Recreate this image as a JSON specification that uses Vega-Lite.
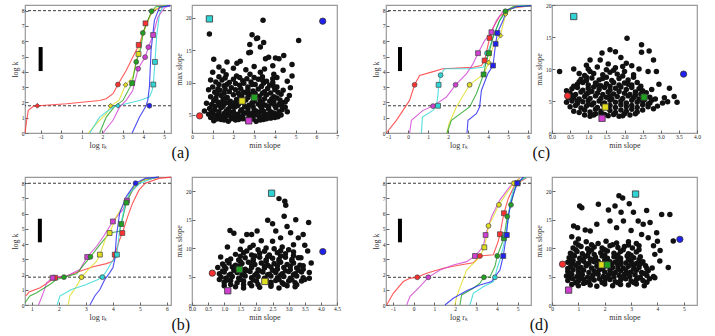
{
"$schema":"https://vega.github.io/schema/vega-lite/v6.json",
"padding":{"left":10,"top":2,"right":5,"bottom":0},
"config":{"font":"Liberation Serif","view":{"stroke":"#999","strokeWidth":1.2},
"axis":{"domain":false,"grid":false,"tickSize":-3,"tickColor":"#666","labelFontSize":5.5,"labelColor":"#222","labelOverlap":false,"labelFlush":false,"titleFontSize":8,"titleFontWeight":"normal","titleColor":"#333","labelPadding":4,"titlePadding":2},
"title":{"fontSize":16,"fontWeight":"normal","font":"Liberation Serif","color":"#111"}},
"datasets":{
"linA":[
{"s":"red","x":-1.76,"y":0},{"s":"red","x":-1.68,"y":0.8},{"s":"red","x":-1.6,"y":1.48},{"s":"red","x":-1.35,"y":1.74},{"s":"red","x":-1.11,"y":1.78},{"s":"red","x":0.26,"y":1.91},{"s":"red","x":1.87,"y":2.13},{"s":"red","x":2.19,"y":2.24},{"s":"red","x":2.52,"y":2.57},{"s":"red","x":2.76,"y":3.17},{"s":"red","x":3.16,"y":4.09},{"s":"red","x":3.48,"y":4.96},{"s":"red","x":3.81,"y":5.83},{"s":"red","x":4.13,"y":7.13},{"s":"red","x":4.45,"y":8.0},{"s":"red","x":4.94,"y":8.26},{"s":"red","x":5.3,"y":8.33},
{"s":"yellow","x":1.31,"y":0},{"s":"yellow","x":1.72,"y":0.61},{"s":"yellow","x":2.19,"y":1.26},{"s":"yellow","x":2.4,"y":1.78},{"s":"yellow","x":2.81,"y":2.13},{"s":"yellow","x":3.13,"y":3.15},{"s":"yellow","x":3.48,"y":3.65},{"s":"yellow","x":3.73,"y":5.17},{"s":"yellow","x":3.85,"y":5.83},{"s":"yellow","x":4.1,"y":6.91},{"s":"yellow","x":4.42,"y":8.0},{"s":"yellow","x":4.9,"y":8.28},{"s":"yellow","x":5.3,"y":8.33},
{"s":"green","x":1.87,"y":0},{"s":"green","x":2.19,"y":1.04},{"s":"green","x":2.6,"y":1.74},{"s":"green","x":3.0,"y":2.13},{"s":"green","x":3.45,"y":3.26},{"s":"green","x":3.65,"y":4.65},{"s":"green","x":3.89,"y":5.61},{"s":"green","x":3.97,"y":6.54},{"s":"green","x":4.21,"y":7.35},{"s":"green","x":4.4,"y":7.96},{"s":"green","x":4.6,"y":8.26},{"s":"green","x":5.3,"y":8.33},
{"s":"cyan","x":1.39,"y":0},{"s":"cyan","x":1.87,"y":1.04},{"s":"cyan","x":2.52,"y":1.7},{"s":"cyan","x":2.76,"y":1.78},{"s":"cyan","x":3.81,"y":2.13},{"s":"cyan","x":4.29,"y":2.35},{"s":"cyan","x":4.42,"y":2.78},{"s":"cyan","x":4.48,"y":3.17},{"s":"cyan","x":4.56,"y":4.65},{"s":"cyan","x":4.65,"y":6.43},{"s":"cyan","x":4.78,"y":7.78},{"s":"cyan","x":4.94,"y":8.26},{"s":"cyan","x":5.3,"y":8.33},
{"s":"magenta","x":2.03,"y":0},{"s":"magenta","x":2.52,"y":0.83},{"s":"magenta","x":2.84,"y":1.69},{"s":"magenta","x":3.16,"y":2.13},{"s":"magenta","x":3.48,"y":2.78},{"s":"magenta","x":3.74,"y":4.2},{"s":"magenta","x":4.08,"y":4.96},{"s":"magenta","x":4.24,"y":5.61},{"s":"magenta","x":4.47,"y":6.41},{"s":"magenta","x":4.7,"y":7.57},{"s":"magenta","x":5.03,"y":8.2},{"s":"magenta","x":5.3,"y":8.33},
{"s":"blue","x":3.45,"y":0},{"s":"blue","x":3.81,"y":1.04},{"s":"blue","x":4.13,"y":1.78},{"s":"blue","x":4.21,"y":2.13},{"s":"blue","x":4.29,"y":3.0},{"s":"blue","x":4.37,"y":5.4},{"s":"blue","x":4.53,"y":7.35},{"s":"blue","x":4.78,"y":8.22},{"s":"blue","x":5.3,"y":8.33}],
"mkA":[
{"s":"red","k":"d","x":-1.16,"y":1.78},{"s":"red","k":"c","x":2.76,"y":3.17},{"s":"red","k":"s","x":3.77,"y":5.76},{"s":"red","k":"s","x":4.1,"y":7.17},
{"s":"yellow","k":"d","x":2.4,"y":1.78},{"s":"yellow","k":"d","x":3.13,"y":3.15},{"s":"yellow","k":"s","x":3.76,"y":5.17},
{"s":"green","k":"s","x":3.45,"y":3.26},{"s":"green","k":"c","x":3.65,"y":4.65},{"s":"green","k":"c","x":3.97,"y":6.54},{"s":"green","k":"c","x":4.4,"y":7.96},
{"s":"cyan","k":"d","x":2.76,"y":1.78},{"s":"cyan","k":"s","x":4.48,"y":3.17},{"s":"cyan","k":"s","x":4.56,"y":4.65},
{"s":"magenta","k":"c","x":3.74,"y":4.2},{"s":"magenta","k":"c","x":4.08,"y":4.96},{"s":"magenta","k":"c","x":4.24,"y":5.61},{"s":"magenta","k":"s","x":4.47,"y":6.41},
{"s":"blue","k":"c","x":4.29,"y":1.78}],
"linC":[
{"s":"red","x":-1.08,"y":0},{"s":"red","x":-0.58,"y":0.83},{"s":"red","x":-0.25,"y":1.48},{"s":"red","x":0.08,"y":2.13},{"s":"red","x":0.33,"y":3.15},{"s":"red","x":0.58,"y":3.76},{"s":"red","x":1.17,"y":3.98},{"s":"red","x":1.75,"y":4.2},{"s":"red","x":3.25,"y":4.3},{"s":"red","x":3.67,"y":4.41},{"s":"red","x":3.83,"y":4.74},{"s":"red","x":4.08,"y":6.22},{"s":"red","x":4.25,"y":6.89},{"s":"red","x":4.58,"y":7.63},{"s":"red","x":4.92,"y":7.96},{"s":"red","x":5.25,"y":8.17},{"s":"red","x":6.15,"y":8.33},
{"s":"magenta","x":0.08,"y":0},{"s":"magenta","x":0.17,"y":0.83},{"s":"magenta","x":0.75,"y":1.48},{"s":"magenta","x":1.25,"y":1.76},{"s":"magenta","x":1.92,"y":2.35},{"s":"magenta","x":2.38,"y":3.15},{"s":"magenta","x":2.92,"y":3.87},{"s":"magenta","x":3.25,"y":4.52},{"s":"magenta","x":3.5,"y":5.22},{"s":"magenta","x":3.83,"y":6.04},{"s":"magenta","x":4.17,"y":6.59},{"s":"magenta","x":4.42,"y":7.35},{"s":"magenta","x":4.75,"y":7.96},{"s":"magenta","x":5.42,"y":8.28},{"s":"magenta","x":6.15,"y":8.33},
{"s":"cyan","x":0.67,"y":0},{"s":"cyan","x":0.72,"y":1.04},{"s":"cyan","x":1.25,"y":1.48},{"s":"cyan","x":1.42,"y":1.78},{"s":"cyan","x":1.5,"y":2.5},{"s":"cyan","x":1.53,"y":3.15},{"s":"cyan","x":1.63,"y":3.78},{"s":"cyan","x":1.83,"y":4.2},{"s":"cyan","x":3.08,"y":4.2},{"s":"cyan","x":3.75,"y":4.3},{"s":"cyan","x":3.92,"y":4.63},{"s":"cyan","x":3.97,"y":5.22},{"s":"cyan","x":4.25,"y":6.22},{"s":"cyan","x":4.58,"y":7.35},{"s":"cyan","x":4.92,"y":8.0},{"s":"cyan","x":5.58,"y":8.33},{"s":"cyan","x":6.15,"y":8.33},
{"s":"yellow","x":1.95,"y":0},{"s":"yellow","x":2.05,"y":0.61},{"s":"yellow","x":2.42,"y":1.7},{"s":"yellow","x":3.08,"y":3.15},{"s":"yellow","x":3.58,"y":3.65},{"s":"yellow","x":3.78,"y":3.83},{"s":"yellow","x":4.03,"y":4.61},{"s":"yellow","x":4.25,"y":5.61},{"s":"yellow","x":4.62,"y":6.37},{"s":"yellow","x":4.88,"y":7.78},{"s":"yellow","x":5.25,"y":8.22},{"s":"yellow","x":6.15,"y":8.33},
{"s":"green","x":1.95,"y":0},{"s":"green","x":2.17,"y":0.83},{"s":"green","x":3.08,"y":1.7},{"s":"green","x":3.42,"y":2.57},{"s":"green","x":3.78,"y":3.83},{"s":"green","x":3.92,"y":4.74},{"s":"green","x":4.05,"y":5.22},{"s":"green","x":4.25,"y":6.26},{"s":"green","x":4.58,"y":7.35},{"s":"green","x":4.87,"y":7.96},{"s":"green","x":5.25,"y":8.26},{"s":"green","x":6.15,"y":8.33},
{"s":"blue","x":2.95,"y":0},{"s":"blue","x":3.0,"y":0.83},{"s":"blue","x":3.42,"y":1.26},{"s":"blue","x":3.58,"y":1.7},{"s":"blue","x":3.67,"y":2.78},{"s":"blue","x":4.0,"y":3.9},{"s":"blue","x":4.25,"y":4.41},{"s":"blue","x":4.38,"y":5.83},{"s":"blue","x":4.47,"y":6.54},{"s":"blue","x":4.75,"y":7.35},{"s":"blue","x":4.92,"y":8.0},{"s":"blue","x":5.42,"y":8.26},{"s":"blue","x":6.15,"y":8.33}],
"mkC":[
{"s":"red","k":"c","x":0.33,"y":3.15},{"s":"red","k":"s","x":3.83,"y":4.74},{"s":"red","k":"s","x":4.08,"y":6.22},
{"s":"magenta","k":"c","x":1.25,"y":1.76},{"s":"magenta","k":"c","x":2.38,"y":3.15},{"s":"magenta","k":"s","x":3.5,"y":5.22},{"s":"magenta","k":"s","x":4.17,"y":6.59},
{"s":"cyan","k":"s","x":1.5,"y":1.78},{"s":"cyan","k":"s","x":1.53,"y":3.15},{"s":"cyan","k":"c","x":1.63,"y":3.78},{"s":"cyan","k":"c","x":3.95,"y":5.22},
{"s":"yellow","k":"c","x":3.08,"y":3.15},{"s":"yellow","k":"d","x":4.03,"y":4.61},{"s":"yellow","k":"d","x":4.62,"y":6.37},{"s":"yellow","k":"d","x":4.88,"y":7.78},
{"s":"green","k":"s","x":3.78,"y":3.83},{"s":"green","k":"s","x":4.05,"y":5.22},{"s":"green","k":"c","x":4.87,"y":7.96},
{"s":"blue","k":"s","x":4.25,"y":4.41},{"s":"blue","k":"s","x":4.38,"y":5.83},{"s":"blue","k":"s","x":4.47,"y":6.54}],
"linB":[
{"s":"red","x":0.78,"y":0.59},{"s":"red","x":0.9,"y":0.85},{"s":"red","x":1.31,"y":1.13},{"s":"red","x":1.68,"y":1.57},{"s":"red","x":1.86,"y":1.79},{"s":"red","x":2.29,"y":1.9},{"s":"red","x":2.78,"y":2.22},{"s":"red","x":3.27,"y":2.51},{"s":"red","x":3.76,"y":2.72},{"s":"red","x":4.0,"y":2.88},{"s":"red","x":4.07,"y":3.31},{"s":"red","x":4.25,"y":4.29},{"s":"red","x":4.35,"y":4.73},{"s":"red","x":4.55,"y":5.82},{"s":"red","x":4.73,"y":6.69},{"s":"red","x":4.97,"y":7.56},{"s":"red","x":5.2,"y":8.0},{"s":"red","x":5.7,"y":8.32},{"s":"red","x":6.15,"y":8.4},
{"s":"magenta","x":1.25,"y":0},{"s":"magenta","x":1.31,"y":0.26},{"s":"magenta","x":1.43,"y":0.81},{"s":"magenta","x":1.55,"y":1.46},{"s":"magenta","x":1.77,"y":1.79},{"s":"magenta","x":2.29,"y":1.9},{"s":"magenta","x":2.78,"y":2.33},{"s":"magenta","x":3.05,"y":3.16},{"s":"magenta","x":3.4,"y":3.86},{"s":"magenta","x":3.65,"y":4.5},{"s":"magenta","x":4.0,"y":5.49},{"s":"magenta","x":4.37,"y":6.26},{"s":"magenta","x":4.52,"y":6.86},{"s":"magenta","x":4.74,"y":7.56},{"s":"magenta","x":5.1,"y":8.2},{"s":"magenta","x":5.7,"y":8.4},
{"s":"green","x":0.75,"y":0.15},{"s":"green","x":0.93,"y":0.59},{"s":"green","x":1.18,"y":0.81},{"s":"green","x":1.67,"y":1.35},{"s":"green","x":1.92,"y":1.68},{"s":"green","x":2.19,"y":1.83},{"s":"green","x":2.66,"y":2.05},{"s":"green","x":2.9,"y":2.59},{"s":"green","x":3.17,"y":3.16},{"s":"green","x":3.52,"y":3.97},{"s":"green","x":3.88,"y":4.73},{"s":"green","x":4.25,"y":4.84},{"s":"green","x":4.31,"y":5.32},{"s":"green","x":4.5,"y":6.73},{"s":"green","x":4.75,"y":7.67},{"s":"green","x":5.1,"y":8.2},{"s":"green","x":5.7,"y":8.4},
{"s":"yellow","x":2.35,"y":0},{"s":"yellow","x":2.41,"y":0.59},{"s":"yellow","x":2.66,"y":1.24},{"s":"yellow","x":2.84,"y":1.83},{"s":"yellow","x":3.09,"y":2.33},{"s":"yellow","x":3.4,"y":2.88},{"s":"yellow","x":3.52,"y":3.31},{"s":"yellow","x":3.76,"y":4.51},{"s":"yellow","x":3.88,"y":4.73},{"s":"yellow","x":4.13,"y":5.82},{"s":"yellow","x":4.5,"y":6.91},{"s":"yellow","x":4.75,"y":7.67},{"s":"yellow","x":5.1,"y":8.2},{"s":"yellow","x":5.7,"y":8.4},
{"s":"cyan","x":1.94,"y":0},{"s":"cyan","x":2.04,"y":0.59},{"s":"cyan","x":2.47,"y":1.02},{"s":"cyan","x":3.02,"y":1.35},{"s":"cyan","x":3.45,"y":1.68},{"s":"cyan","x":3.61,"y":1.83},{"s":"cyan","x":3.76,"y":2.22},{"s":"cyan","x":3.94,"y":2.77},{"s":"cyan","x":4.13,"y":3.2},{"s":"cyan","x":4.15,"y":3.31},{"s":"cyan","x":4.25,"y":4.95},{"s":"cyan","x":4.44,"y":6.49},{"s":"cyan","x":4.62,"y":7.36},{"s":"cyan","x":4.99,"y":8.0},{"s":"cyan","x":5.6,"y":8.39},
{"s":"blue","x":3.15,"y":0},{"s":"blue","x":3.33,"y":0.59},{"s":"blue","x":3.52,"y":1.02},{"s":"blue","x":3.7,"y":1.68},{"s":"blue","x":3.88,"y":2.11},{"s":"blue","x":4.0,"y":2.44},{"s":"blue","x":4.07,"y":2.99},{"s":"blue","x":4.13,"y":4.51},{"s":"blue","x":4.25,"y":6.04},{"s":"blue","x":4.5,"y":7.14},{"s":"blue","x":4.84,"y":8.0},{"s":"blue","x":5.2,"y":8.32},{"s":"blue","x":5.7,"y":8.4}],
"mkB":[
{"s":"red","k":"s","x":1.86,"y":1.79},{"s":"red","k":"s","x":4.07,"y":3.31},{"s":"red","k":"s","x":4.35,"y":4.73},
{"s":"magenta","k":"s","x":1.77,"y":1.79},{"s":"magenta","k":"s","x":3.05,"y":3.16},{"s":"magenta","k":"s","x":4.0,"y":5.49},{"s":"magenta","k":"s","x":4.52,"y":6.86},
{"s":"green","k":"c","x":2.19,"y":1.83},{"s":"green","k":"c","x":3.17,"y":3.16},{"s":"green","k":"s","x":4.31,"y":5.32},{"s":"green","k":"s","x":4.5,"y":6.73},
{"s":"yellow","k":"c","x":2.84,"y":1.83},{"s":"yellow","k":"s","x":3.52,"y":3.31},{"s":"yellow","k":"s","x":3.88,"y":4.73},
{"s":"cyan","k":"c","x":3.61,"y":1.83},{"s":"cyan","k":"s","x":4.15,"y":3.31},
{"s":"blue","k":"c","x":4.84,"y":8.0}],
"linD":[
{"s":"red","x":-1.29,"y":0},{"s":"red","x":-0.97,"y":0.77},{"s":"red","x":-0.49,"y":1.54},{"s":"red","x":-0.17,"y":1.75},{"s":"red","x":0.18,"y":1.82},{"s":"red","x":0.63,"y":2.08},{"s":"red","x":1.43,"y":2.41},{"s":"red","x":2.23,"y":2.63},{"s":"red","x":2.87,"y":2.78},{"s":"red","x":3.19,"y":3.22},{"s":"red","x":3.83,"y":3.3},{"s":"red","x":4.07,"y":4.2},{"s":"red","x":4.15,"y":4.65},{"s":"red","x":4.34,"y":6.03},{"s":"red","x":4.55,"y":7.0},{"s":"red","x":4.87,"y":7.9},{"s":"red","x":5.43,"y":8.36},
{"s":"magenta","x":-0.33,"y":0},{"s":"magenta","x":-0.17,"y":0.55},{"s":"magenta","x":0.31,"y":1.2},{"s":"magenta","x":0.71,"y":1.82},{"s":"magenta","x":1.27,"y":2.3},{"s":"magenta","x":1.91,"y":2.63},{"s":"magenta","x":2.55,"y":2.85},{"s":"magenta","x":2.95,"y":3.22},{"s":"magenta","x":3.35,"y":3.84},{"s":"magenta","x":3.46,"y":4.6},{"s":"magenta","x":3.75,"y":5.81},{"s":"magenta","x":4.15,"y":6.91},{"s":"magenta","x":4.63,"y":7.79},{"s":"magenta","x":5.1,"y":8.33},
{"s":"yellow","x":1.99,"y":0},{"s":"yellow","x":2.07,"y":0.55},{"s":"yellow","x":2.55,"y":2.3},{"s":"yellow","x":2.87,"y":2.74},{"s":"yellow","x":3.19,"y":3.18},{"s":"yellow","x":3.4,"y":3.79},{"s":"yellow","x":3.51,"y":4.5},{"s":"yellow","x":3.6,"y":5.2},{"s":"yellow","x":3.83,"y":5.81},{"s":"yellow","x":4.1,"y":6.58},{"s":"yellow","x":4.47,"y":7.35},{"s":"yellow","x":4.82,"y":8.0},{"s":"yellow","x":5.1,"y":8.33},
{"s":"green","x":2.23,"y":0},{"s":"green","x":2.31,"y":0.66},{"s":"green","x":2.87,"y":1.1},{"s":"green","x":3.19,"y":1.43},{"s":"green","x":3.38,"y":1.82},{"s":"green","x":3.67,"y":1.86},{"s":"green","x":3.91,"y":2.54},{"s":"green","x":4.02,"y":3.22},{"s":"green","x":4.34,"y":4.39},{"s":"green","x":4.5,"y":5.81},{"s":"green","x":4.68,"y":6.58},{"s":"green","x":4.84,"y":7.57},{"s":"green","x":5.0,"y":8.0},{"s":"green","x":5.32,"y":8.4},
{"s":"cyan","x":2.71,"y":0},{"s":"cyan","x":2.87,"y":0.77},{"s":"cyan","x":3.35,"y":1.2},{"s":"cyan","x":3.83,"y":1.54},{"s":"cyan","x":3.91,"y":1.82},{"s":"cyan","x":3.99,"y":2.3},{"s":"cyan","x":4.15,"y":2.96},{"s":"cyan","x":4.31,"y":3.84},{"s":"cyan","x":4.42,"y":4.6},{"s":"cyan","x":4.55,"y":5.59},{"s":"cyan","x":4.63,"y":6.69},{"s":"cyan","x":4.79,"y":7.57},{"s":"cyan","x":5.03,"y":8.11},{"s":"cyan","x":5.43,"y":8.4},
{"s":"blue","x":1.51,"y":0},{"s":"blue","x":1.91,"y":0.44},{"s":"blue","x":2.55,"y":0.94},{"s":"blue","x":3.19,"y":1.32},{"s":"blue","x":3.75,"y":1.54},{"s":"blue","x":3.91,"y":1.86},{"s":"blue","x":4.15,"y":2.3},{"s":"blue","x":4.31,"y":3.22},{"s":"blue","x":4.46,"y":4.6},{"s":"blue","x":4.55,"y":5.81},{"s":"blue","x":4.71,"y":6.91},{"s":"blue","x":4.98,"y":8.0},{"s":"blue","x":5.27,"y":8.4}],
"mkD":[
{"s":"red","k":"c","x":0.18,"y":1.82},{"s":"red","k":"c","x":3.19,"y":3.22},{"s":"red","k":"s","x":4.15,"y":4.65},{"s":"red","k":"s","x":4.34,"y":6.03},
{"s":"magenta","k":"c","x":0.71,"y":1.82},{"s":"magenta","k":"s","x":2.95,"y":3.22},{"s":"magenta","k":"s","x":3.46,"y":4.6},
{"s":"yellow","k":"s","x":3.4,"y":3.79},{"s":"yellow","k":"c","x":3.6,"y":5.2},{"s":"yellow","k":"c","x":4.1,"y":6.58},{"s":"yellow","k":"c","x":4.82,"y":8.0},
{"s":"green","k":"c","x":3.38,"y":1.82},{"s":"green","k":"c","x":4.02,"y":3.22},{"s":"green","k":"s","x":4.34,"y":4.39},{"s":"green","k":"c","x":4.5,"y":5.81},{"s":"green","k":"c","x":4.68,"y":6.58},{"s":"green","k":"s","x":5.0,"y":8.0},
{"s":"cyan","k":"c","x":3.91,"y":1.82},{"s":"cyan","k":"s","x":4.42,"y":4.6},
{"s":"blue","k":"s","x":4.31,"y":3.22},{"s":"blue","k":"s","x":4.48,"y":4.6},{"s":"blue","k":"s","x":4.98,"y":8.0}],
"dashA":[{"y":8.0},{"y":1.78}],"dashC":[{"y":8.0},{"y":1.78}],"dashB":[{"y":8.0},{"y":1.83}],"dashD":[{"y":8.0},{"y":1.82}],
"barA":[{"x":-1,"y":4.05,"y2":5.62}],"barC":[{"x":-0.4,"y":4.05,"y2":5.62}],"barB":[{"x":1.3,"y":4.12,"y2":5.67}],"barD":[{"x":-0.65,"y":4.12,"y2":5.67}],
"hA":[{"s":"cyan","k":"s","x":0.84,"y":19.85},{"s":"blue","k":"c","x":6.31,"y":19.5},{"s":"red","k":"c","x":0.37,"y":4.85},{"s":"magenta","k":"s","x":2.74,"y":4.08},{"s":"yellow","k":"s","x":2.42,"y":7.15},{"s":"green","k":"s","x":3.01,"y":7.7}],
"hC":[{"s":"cyan","k":"s","x":0.6,"y":18.2},{"s":"blue","k":"c","x":3.63,"y":9.2},{"s":"red","k":"c","x":0.43,"y":5.8},{"s":"green","k":"s","x":2.54,"y":5.6},{"s":"yellow","k":"s","x":1.47,"y":4.05},{"s":"magenta","k":"s","x":1.38,"y":2.3}],
"hB":[{"s":"cyan","k":"s","x":2.47,"y":19.65},{"s":"blue","k":"c","x":4.06,"y":9.39},{"s":"red","k":"c","x":0.63,"y":5.6},{"s":"green","k":"s","x":1.47,"y":6.24},{"s":"yellow","k":"s","x":2.26,"y":4.14},{"s":"magenta","k":"s","x":1.11,"y":2.5}],
"hD":[{"s":"cyan","k":"s","x":3.17,"y":19.5},{"s":"blue","k":"c","x":4.85,"y":11.55},{"s":"red","k":"c","x":0.4,"y":7.17},{"s":"yellow","k":"s","x":1.89,"y":7.06},{"s":"green","k":"s","x":2.1,"y":7.06},{"s":"magenta","k":"s","x":0.63,"y":2.62}],
"sA":[{"x":0.84,"y":17.5},{"x":3.43,"y":19.65},{"x":2.9,"y":17.4},{"x":3.11,"y":16.8},{"x":3.17,"y":16.9},{"x":2.79,"y":15.9},{"x":3.46,"y":16.2},{"x":3.3,"y":15.5},{"x":5.15,"y":16.5},{"x":2.74,"y":14.6},{"x":2.82,"y":14.7},{"x":1.05,"y":13.6},{"x":3.55,"y":13.7},{"x":3.7,"y":13.9},{"x":4.03,"y":13.8},{"x":4.2,"y":13.7},{"x":4.43,"y":14.2},{"x":4.83,"y":12.8},{"x":1.69,"y":13.2},{"x":2.17,"y":13.0},{"x":2.33,"y":13.3},{"x":3.9,"y":12.6},{"x":3.5,"y":12.1},{"x":4.83,"y":11.0},{"x":4.75,"y":9.2},{"x":4.59,"y":7.4},
{"x":1.3,"y":12.4},{"x":1.0,"y":11.6},{"x":1.5,"y":11.8},{"x":2.0,"y":12.2},{"x":2.6,"y":12.0},{"x":3.0,"y":12.5},{"x":3.3,"y":11.6},{"x":4.4,"y":11.9},{"x":4.1,"y":10.8},{"x":4.6,"y":10.2},{"x":4.4,"y":8.8},{"x":4.7,"y":8.0},{"x":4.5,"y":6.2},{"x":4.6,"y":5.5},{"x":0.7,"y":6.8},{"x":0.6,"y":5.6},{"x":0.8,"y":8.9},{"x":0.9,"y":10.4},
{"x":1.05,"y":4.1},{"x":1.4,"y":4.3},{"x":1.75,"y":4.0},{"x":2.1,"y":4.2},{"x":2.45,"y":4.4},{"x":3.1,"y":4.0},{"x":3.45,"y":4.3},{"x":3.8,"y":4.5},{"x":0.9,"y":4.6},{"x":1.25,"y":4.7},{"x":1.6,"y":4.5},{"x":1.95,"y":4.7},{"x":2.3,"y":4.6},{"x":2.85,"y":4.6},{"x":3.25,"y":4.7},{"x":4.15,"y":4.7},
{"x":1.0,"y":5.3},{"x":1.2,"y":5.0},{"x":1.55,"y":5.2},{"x":1.85,"y":5.4},{"x":2.2,"y":5.1},{"x":2.55,"y":5.3},{"x":2.9,"y":5.2},{"x":3.25,"y":5.4},{"x":3.6,"y":5.1},{"x":3.95,"y":5.3},{"x":4.3,"y":5.0},{"x":0.8,"y":5.1},
{"x":0.85,"y":6.0},{"x":1.1,"y":5.8},{"x":1.4,"y":6.1},{"x":1.75,"y":5.9},{"x":2.05,"y":6.2},{"x":2.4,"y":5.8},{"x":2.7,"y":6.0},{"x":3.0,"y":5.8},{"x":3.35,"y":6.1},{"x":3.7,"y":5.9},{"x":4.05,"y":6.1},{"x":4.35,"y":5.8},
{"x":0.95,"y":6.6},{"x":1.3,"y":6.5},{"x":1.6,"y":6.8},{"x":1.95,"y":6.5},{"x":2.25,"y":6.7},{"x":2.75,"y":6.5},{"x":3.2,"y":6.7},{"x":3.55,"y":6.5},{"x":3.85,"y":6.8},{"x":4.2,"y":6.6},
{"x":1.05,"y":7.2},{"x":1.25,"y":7.0},{"x":1.5,"y":7.4},{"x":1.85,"y":7.1},{"x":2.15,"y":7.4},{"x":2.6,"y":7.3},{"x":3.3,"y":7.2},{"x":3.5,"y":7.5},{"x":3.75,"y":7.1},{"x":4.25,"y":7.3},{"x":4.5,"y":7.0},
{"x":0.9,"y":7.8},{"x":1.4,"y":8.0},{"x":1.7,"y":7.7},{"x":2.0,"y":8.1},{"x":2.4,"y":7.9},{"x":2.8,"y":8.2},{"x":3.25,"y":7.9},{"x":3.6,"y":8.1},{"x":3.95,"y":7.8},{"x":4.3,"y":8.2},
{"x":1.1,"y":8.5},{"x":1.35,"y":8.8},{"x":1.8,"y":8.6},{"x":2.1,"y":8.9},{"x":2.5,"y":8.5},{"x":2.95,"y":8.7},{"x":3.2,"y":9.0},{"x":3.5,"y":8.6},{"x":4.0,"y":8.9},
{"x":1.0,"y":9.3},{"x":1.55,"y":9.5},{"x":1.9,"y":9.2},{"x":2.3,"y":9.6},{"x":2.7,"y":9.3},{"x":3.05,"y":9.7},{"x":3.35,"y":9.4},{"x":3.75,"y":9.6},{"x":4.1,"y":9.3},
{"x":1.15,"y":10.1},{"x":1.45,"y":10.4},{"x":1.8,"y":10.0},{"x":2.45,"y":10.3},{"x":2.85,"y":10.1},{"x":3.2,"y":10.5},{"x":3.6,"y":10.2},{"x":3.9,"y":10.6},
{"x":1.3,"y":10.9},{"x":1.65,"y":11.2},{"x":2.15,"y":11.0},{"x":2.8,"y":11.3},{"x":3.4,"y":10.9},{"x":3.95,"y":11.3},
{"x":1.2,"y":4.35},{"x":1.55,"y":4.2},{"x":1.9,"y":4.4},{"x":2.25,"y":4.3},{"x":2.65,"y":4.25},{"x":2.95,"y":4.35},{"x":3.3,"y":4.2},{"x":3.6,"y":4.4},{"x":4.0,"y":4.6},
{"x":1.05,"y":4.9},{"x":1.4,"y":4.85},{"x":1.75,"y":4.95},{"x":2.1,"y":4.8},{"x":2.45,"y":4.9},{"x":2.75,"y":4.85},{"x":3.05,"y":5.0},{"x":3.45,"y":4.9},{"x":3.8,"y":4.85},{"x":4.15,"y":5.1},
{"x":0.95,"y":5.55},{"x":1.3,"y":5.5},{"x":1.65,"y":5.6},{"x":2.0,"y":5.5},{"x":2.35,"y":5.6},{"x":2.7,"y":5.5},{"x":3.1,"y":5.55},{"x":3.45,"y":5.6},{"x":3.8,"y":5.5},{"x":4.2,"y":5.5},
{"x":1.1,"y":6.3},{"x":1.5,"y":6.35},{"x":1.85,"y":6.25},{"x":2.2,"y":6.4},{"x":2.55,"y":6.3},{"x":2.95,"y":6.3},{"x":3.3,"y":6.4},{"x":3.7,"y":6.3},{"x":4.0,"y":6.4},{"x":4.35,"y":6.3},
{"x":1.4,"y":6.85},{"x":1.75,"y":6.9},{"x":2.1,"y":6.95},{"x":2.45,"y":6.9},{"x":2.9,"y":6.9},{"x":3.0,"y":7.1},{"x":3.4,"y":6.85},{"x":3.95,"y":7.0},{"x":4.35,"y":6.9},
{"x":1.15,"y":7.6},{"x":1.6,"y":7.55},{"x":2.3,"y":7.6},{"x":2.7,"y":7.7},{"x":3.0,"y":7.5},{"x":3.85,"y":7.5},{"x":4.1,"y":7.6},
{"x":1.2,"y":8.25},{"x":1.55,"y":8.35},{"x":2.25,"y":8.3},{"x":2.65,"y":8.4},{"x":3.05,"y":8.3},{"x":3.4,"y":8.35},{"x":3.8,"y":8.4},{"x":4.15,"y":8.5},
{"x":1.25,"y":9.0},{"x":1.6,"y":9.0},{"x":2.35,"y":9.05},{"x":2.7,"y":8.9},{"x":3.65,"y":9.1},{"x":3.95,"y":9.4},
{"x":1.3,"y":9.7},{"x":1.7,"y":9.75},{"x":2.1,"y":9.85},{"x":2.5,"y":9.9},{"x":2.9,"y":9.7},{"x":3.45,"y":9.9},{"x":3.9,"y":10.0},
{"x":1.6,"y":10.7},{"x":2.0,"y":10.5},{"x":2.3,"y":10.8},{"x":2.65,"y":10.6},{"x":3.0,"y":10.8},{"x":3.4,"y":10.4}],
"sC":[{"x":2.07,"y":14.8},{"x":2.47,"y":13.8},{"x":2.47,"y":12.6},{"x":2.68,"y":12.8},{"x":2.8,"y":11.4},{"x":2.65,"y":9.6},{"x":2.88,"y":9.6},{"x":3.24,"y":7.0},{"x":3.37,"y":5.7},{"x":2.91,"y":4.2},{"x":3.05,"y":4.7},{"x":3.19,"y":4.9},{"x":0.21,"y":9.6},{"x":1.38,"y":12.5},{"x":1.6,"y":13.0},{"x":1.75,"y":12.7},{"x":1.33,"y":11.4},{"x":1.05,"y":11.4},{"x":0.95,"y":10.6},{"x":1.9,"y":11.8},{"x":2.2,"y":10.5},{"x":2.4,"y":10.0},{"x":3.1,"y":5.5},{"x":2.75,"y":6.8},{"x":2.95,"y":7.6},{"x":3.45,"y":4.8},{"x":2.8,"y":3.8},{"x":0.6,"y":10.0},{"x":0.75,"y":9.3},{"x":1.55,"y":10.8},{"x":2.05,"y":10.9},
{"x":0.9,"y":2.8},{"x":1.05,"y":2.6},{"x":1.2,"y":3.0},{"x":1.55,"y":2.7},{"x":1.7,"y":2.9},{"x":1.85,"y":2.6},{"x":2.0,"y":3.0},{"x":2.15,"y":2.8},
{"x":0.6,"y":3.4},{"x":0.75,"y":3.2},{"x":0.9,"y":3.6},{"x":1.05,"y":3.3},{"x":1.2,"y":3.7},{"x":1.35,"y":3.4},{"x":1.6,"y":3.5},{"x":1.75,"y":3.2},{"x":1.9,"y":3.6},{"x":2.05,"y":3.4},{"x":2.2,"y":3.7},{"x":2.35,"y":3.3},{"x":2.5,"y":3.6},
{"x":0.5,"y":4.1},{"x":0.65,"y":4.3},{"x":0.8,"y":3.9},{"x":0.95,"y":4.2},{"x":1.1,"y":4.4},{"x":1.25,"y":4.0},{"x":1.6,"y":4.3},{"x":1.75,"y":4.0},{"x":1.9,"y":4.4},{"x":2.05,"y":4.1},{"x":2.2,"y":4.3},{"x":2.35,"y":4.0},{"x":2.5,"y":4.4},{"x":2.65,"y":4.1},
{"x":0.4,"y":4.8},{"x":0.55,"y":5.0},{"x":0.7,"y":4.6},{"x":0.85,"y":4.9},{"x":1.0,"y":5.1},{"x":1.15,"y":4.7},{"x":1.3,"y":5.0},{"x":1.45,"y":4.7},{"x":1.6,"y":5.1},{"x":1.75,"y":4.8},{"x":1.9,"y":5.0},{"x":2.05,"y":4.7},{"x":2.2,"y":5.1},{"x":2.35,"y":4.8},{"x":2.5,"y":5.0},{"x":2.7,"y":4.7},
{"x":0.6,"y":5.5},{"x":0.75,"y":5.3},{"x":0.9,"y":5.7},{"x":1.05,"y":5.4},{"x":1.2,"y":5.8},{"x":1.35,"y":5.4},{"x":1.5,"y":5.6},{"x":1.65,"y":5.3},{"x":1.8,"y":5.7},{"x":1.95,"y":5.4},{"x":2.1,"y":5.8},{"x":2.25,"y":5.5},{"x":2.4,"y":5.3},{"x":2.7,"y":5.6},{"x":2.85,"y":5.3},
{"x":0.5,"y":6.2},{"x":0.65,"y":6.0},{"x":0.8,"y":6.4},{"x":0.95,"y":6.1},{"x":1.1,"y":6.5},{"x":1.25,"y":6.2},{"x":1.4,"y":6.0},{"x":1.55,"y":6.4},{"x":1.7,"y":6.1},{"x":1.85,"y":6.5},{"x":2.0,"y":6.2},{"x":2.15,"y":6.0},{"x":2.3,"y":6.4},{"x":2.45,"y":6.1},{"x":2.6,"y":6.3},
{"x":0.55,"y":6.9},{"x":0.7,"y":7.1},{"x":0.85,"y":6.7},{"x":1.0,"y":7.0},{"x":1.15,"y":7.2},{"x":1.3,"y":6.8},{"x":1.45,"y":7.1},{"x":1.6,"y":6.7},{"x":1.75,"y":7.0},{"x":1.9,"y":7.2},{"x":2.05,"y":6.8},{"x":2.2,"y":7.1},{"x":2.4,"y":6.9},
{"x":0.7,"y":7.6},{"x":0.85,"y":7.9},{"x":1.0,"y":7.5},{"x":1.2,"y":7.8},{"x":1.35,"y":7.4},{"x":1.5,"y":7.7},{"x":1.7,"y":7.9},{"x":1.85,"y":7.5},{"x":2.0,"y":7.8},{"x":2.2,"y":7.5},{"x":2.35,"y":7.9},
{"x":0.8,"y":8.4},{"x":0.95,"y":8.2},{"x":1.1,"y":8.6},{"x":1.3,"y":8.3},{"x":1.5,"y":8.7},{"x":1.65,"y":8.2},{"x":1.85,"y":8.5},{"x":2.1,"y":8.3},{"x":2.25,"y":8.7},
{"x":0.9,"y":9.0},{"x":1.15,"y":9.3},{"x":1.4,"y":9.1},{"x":1.6,"y":9.5},{"x":1.8,"y":9.2},{"x":2.0,"y":9.6},{"x":2.25,"y":9.1},
{"x":1.0,"y":10.0},{"x":1.25,"y":10.3},{"x":1.5,"y":9.9},{"x":1.75,"y":10.2},{"x":1.95,"y":10.4},
{"x":0.7,"y":5.0},{"x":1.0,"y":4.5},{"x":1.4,"y":4.5},{"x":1.55,"y":3.9},{"x":2.3,"y":3.0},{"x":1.35,"y":3.0},{"x":0.55,"y":5.8},{"x":1.0,"y":6.3},{"x":1.6,"y":5.8},{"x":2.3,"y":5.9},{"x":2.5,"y":6.6},{"x":0.6,"y":7.3},{"x":1.25,"y":7.5},{"x":1.6,"y":7.3},{"x":2.1,"y":7.6},{"x":0.95,"y":8.7},{"x":1.4,"y":8.5},{"x":1.95,"y":8.9},{"x":1.05,"y":9.6},{"x":1.7,"y":9.8},{"x":2.45,"y":7.3},{"x":2.55,"y":5.2},{"x":0.45,"y":5.5},{"x":0.4,"y":6.6},{"x":2.65,"y":4.5},{"x":2.75,"y":5.1},{"x":1.15,"y":2.8},{"x":1.45,"y":2.9},{"x":1.95,"y":2.7},{"x":0.75,"y":8.0}],
"sB":[{"x":2.7,"y":18.7},{"x":2.88,"y":18.25},{"x":2.91,"y":17.55},{"x":2.86,"y":15.6},{"x":3.22,"y":15.0},{"x":3.62,"y":14.5},{"x":2.35,"y":14.9},{"x":2.5,"y":14.3},{"x":1.18,"y":13.1},{"x":1.3,"y":12.6},{"x":1.7,"y":12.4},{"x":1.85,"y":12.4},{"x":2.02,"y":13.0},{"x":1.55,"y":11.25},{"x":2.15,"y":11.3},{"x":2.5,"y":11.2},{"x":2.75,"y":11.8},{"x":3.06,"y":12.7},{"x":3.3,"y":11.8},{"x":3.45,"y":12.4},{"x":0.89,"y":8.45},{"x":3.64,"y":5.7},{"x":3.64,"y":4.7},{"x":3.38,"y":8.3},{"x":3.59,"y":9.5},{"x":2.6,"y":13.0},{"x":2.95,"y":13.8},{"x":3.15,"y":10.6},{"x":3.5,"y":10.5},{"x":1.9,"y":10.5},{"x":2.3,"y":10.0},{"x":1.1,"y":10.2},{"x":3.7,"y":7.4},{"x":0.8,"y":6.6},{"x":0.85,"y":4.5},{"x":1.0,"y":3.4},
{"x":1.35,"y":3.2},{"x":1.6,"y":3.0},{"x":1.85,"y":3.4},{"x":2.1,"y":3.1},{"x":2.45,"y":3.3},{"x":2.7,"y":3.0},{"x":2.95,"y":3.4},{"x":3.2,"y":3.2},
{"x":1.0,"y":4.0},{"x":1.2,"y":4.3},{"x":1.4,"y":3.9},{"x":1.6,"y":4.2},{"x":1.8,"y":3.8},{"x":2.0,"y":4.2},{"x":2.45,"y":4.0},{"x":2.6,"y":4.3},{"x":2.8,"y":3.9},{"x":3.0,"y":4.2},{"x":3.2,"y":3.9},{"x":3.4,"y":4.2},
{"x":0.9,"y":4.9},{"x":1.05,"y":4.7},{"x":1.25,"y":5.0},{"x":1.45,"y":4.7},{"x":1.65,"y":5.1},{"x":1.85,"y":4.8},{"x":2.05,"y":5.0},{"x":2.25,"y":4.7},{"x":2.45,"y":5.1},{"x":2.65,"y":4.8},{"x":2.85,"y":5.0},{"x":3.05,"y":4.7},{"x":3.25,"y":5.1},{"x":3.45,"y":4.8},
{"x":0.85,"y":5.5},{"x":1.0,"y":5.8},{"x":1.2,"y":5.4},{"x":1.4,"y":5.7},{"x":1.6,"y":5.5},{"x":1.8,"y":5.9},{"x":2.0,"y":5.5},{"x":2.2,"y":5.8},{"x":2.4,"y":5.4},{"x":2.6,"y":5.7},{"x":2.8,"y":5.5},{"x":3.0,"y":5.9},{"x":3.2,"y":5.5},{"x":3.4,"y":5.8},
{"x":1.05,"y":6.4},{"x":1.25,"y":6.7},{"x":1.65,"y":6.3},{"x":1.85,"y":6.6},{"x":2.05,"y":6.2},{"x":2.25,"y":6.5},{"x":2.45,"y":6.7},{"x":2.65,"y":6.3},{"x":2.85,"y":6.6},{"x":3.05,"y":6.2},{"x":3.25,"y":6.5},{"x":3.45,"y":6.3},
{"x":0.95,"y":7.2},{"x":1.15,"y":7.4},{"x":1.35,"y":7.0},{"x":1.55,"y":7.3},{"x":1.75,"y":7.5},{"x":1.95,"y":7.1},{"x":2.15,"y":7.4},{"x":2.35,"y":7.0},{"x":2.55,"y":7.3},{"x":2.75,"y":7.5},{"x":2.95,"y":7.1},{"x":3.15,"y":7.4},{"x":3.35,"y":7.0},
{"x":1.2,"y":8.1},{"x":1.45,"y":7.9},{"x":1.65,"y":8.3},{"x":1.9,"y":8.0},{"x":2.1,"y":8.4},{"x":2.3,"y":7.9},{"x":2.5,"y":8.2},{"x":2.7,"y":8.0},{"x":2.9,"y":8.4},{"x":3.1,"y":8.0},{"x":3.3,"y":8.3},
{"x":1.35,"y":8.9},{"x":1.6,"y":9.2},{"x":1.85,"y":8.8},{"x":2.1,"y":9.1},{"x":2.4,"y":8.8},{"x":2.65,"y":9.2},{"x":2.9,"y":9.0},{"x":3.15,"y":9.3},
{"x":1.5,"y":9.8},{"x":1.8,"y":10.1},{"x":2.05,"y":9.7},{"x":2.55,"y":9.9},{"x":2.8,"y":10.2},{"x":3.0,"y":9.7},
{"x":1.1,"y":4.4},{"x":1.5,"y":4.5},{"x":1.9,"y":4.4},{"x":2.3,"y":4.45},{"x":2.7,"y":4.5},{"x":3.1,"y":4.45},{"x":3.5,"y":4.5},
{"x":1.15,"y":5.25},{"x":1.55,"y":5.3},{"x":1.95,"y":5.25},{"x":2.35,"y":5.3},{"x":2.75,"y":5.25},{"x":3.15,"y":5.3},
{"x":0.95,"y":6.0},{"x":1.3,"y":6.1},{"x":1.7,"y":6.05},{"x":2.1,"y":6.0},{"x":2.5,"y":6.1},{"x":2.9,"y":6.0},{"x":3.3,"y":6.1},
{"x":1.0,"y":6.85},{"x":1.45,"y":6.8},{"x":1.85,"y":6.9},{"x":2.25,"y":6.85},{"x":2.65,"y":6.9},{"x":3.05,"y":6.8},{"x":3.45,"y":6.9},
{"x":1.1,"y":7.8},{"x":1.5,"y":7.65},{"x":1.9,"y":7.75},{"x":2.3,"y":7.7},{"x":2.7,"y":7.7},{"x":3.1,"y":7.75},
{"x":1.5,"y":8.55},{"x":1.95,"y":8.6},{"x":2.35,"y":8.5},{"x":2.75,"y":8.6},{"x":3.15,"y":8.65},
{"x":1.2,"y":3.6},{"x":1.6,"y":3.55},{"x":2.05,"y":3.6},{"x":2.45,"y":3.6},{"x":2.85,"y":3.65},{"x":3.25,"y":3.55},
{"x":1.7,"y":9.5},{"x":2.25,"y":9.45},{"x":2.75,"y":9.55}],
"sD":[{"x":2.54,"y":19.2},{"x":2.68,"y":18.8},{"x":2.93,"y":17.8},{"x":1.76,"y":17.7},{"x":1.05,"y":17.4},{"x":1.13,"y":17.1},{"x":2.14,"y":16.7},{"x":2.39,"y":17.4},{"x":2.62,"y":16.3},{"x":3.09,"y":16.3},{"x":4.47,"y":15.9},{"x":4.16,"y":15.9},{"x":3.59,"y":16.6},{"x":3.27,"y":14.75},{"x":3.46,"y":14.2},{"x":3.72,"y":14.5},{"x":0.82,"y":13.9},{"x":0.97,"y":13.6},{"x":1.26,"y":13.2},{"x":1.45,"y":13.0},{"x":2.2,"y":14.75},{"x":2.71,"y":14.75},{"x":3.97,"y":12.7},{"x":3.4,"y":12.4},{"x":3.65,"y":11.84},{"x":4.6,"y":11.25},{"x":4.41,"y":6.6},{"x":3.9,"y":8.9},{"x":4.09,"y":7.75},{"x":1.7,"y":14.2},{"x":2.45,"y":13.6},{"x":3.0,"y":13.1},{"x":0.75,"y":12.0},{"x":1.0,"y":11.6},{"x":3.85,"y":10.4},{"x":4.1,"y":9.6},{"x":4.0,"y":11.2},
{"x":0.75,"y":3.6},{"x":1.0,"y":3.4},{"x":1.2,"y":3.8},{"x":1.45,"y":3.5},{"x":1.7,"y":3.3},{"x":2.0,"y":3.7},{"x":2.3,"y":3.4},{"x":2.6,"y":3.6},{"x":2.9,"y":3.5},{"x":3.2,"y":3.7},{"x":3.5,"y":3.4},
{"x":0.6,"y":4.3},{"x":0.8,"y":4.6},{"x":1.0,"y":4.2},{"x":1.2,"y":4.5},{"x":1.4,"y":4.1},{"x":1.6,"y":4.4},{"x":1.8,"y":4.6},{"x":2.0,"y":4.2},{"x":2.2,"y":4.5},{"x":2.4,"y":4.1},{"x":2.6,"y":4.4},{"x":2.8,"y":4.6},{"x":3.0,"y":4.2},{"x":3.2,"y":4.5},{"x":3.45,"y":4.3},{"x":3.7,"y":4.6},
{"x":0.55,"y":5.1},{"x":0.75,"y":5.4},{"x":0.95,"y":5.0},{"x":1.15,"y":5.3},{"x":1.35,"y":4.9},{"x":1.55,"y":5.2},{"x":1.75,"y":5.4},{"x":1.95,"y":5.0},{"x":2.15,"y":5.3},{"x":2.35,"y":4.9},{"x":2.55,"y":5.2},{"x":2.75,"y":5.4},{"x":2.95,"y":5.0},{"x":3.15,"y":5.3},{"x":3.35,"y":4.9},{"x":3.6,"y":5.2},{"x":3.85,"y":5.0},
{"x":0.6,"y":5.9},{"x":0.8,"y":6.2},{"x":1.0,"y":5.8},{"x":1.2,"y":6.1},{"x":1.4,"y":5.7},{"x":1.6,"y":6.0},{"x":1.8,"y":6.2},{"x":2.0,"y":5.8},{"x":2.2,"y":6.1},{"x":2.4,"y":5.7},{"x":2.6,"y":6.0},{"x":2.8,"y":6.2},{"x":3.0,"y":5.8},{"x":3.2,"y":6.1},{"x":3.4,"y":5.7},{"x":3.65,"y":6.0},
{"x":0.7,"y":6.7},{"x":0.9,"y":7.0},{"x":1.1,"y":6.6},{"x":1.3,"y":6.9},{"x":1.5,"y":6.5},{"x":1.7,"y":6.8},{"x":2.3,"y":6.6},{"x":2.5,"y":6.9},{"x":2.7,"y":6.5},{"x":2.9,"y":6.8},{"x":3.1,"y":7.0},{"x":3.3,"y":6.6},{"x":3.55,"y":6.9},{"x":3.8,"y":6.5},
{"x":0.6,"y":7.5},{"x":0.8,"y":7.8},{"x":1.0,"y":7.4},{"x":1.2,"y":7.7},{"x":1.4,"y":7.3},{"x":1.6,"y":7.6},{"x":2.4,"y":7.5},{"x":2.6,"y":7.8},{"x":2.8,"y":7.4},{"x":3.0,"y":7.7},{"x":3.2,"y":7.3},{"x":3.45,"y":7.6},
{"x":0.65,"y":8.3},{"x":0.85,"y":8.6},{"x":1.05,"y":8.2},{"x":1.25,"y":8.5},{"x":1.45,"y":8.1},{"x":1.65,"y":8.4},{"x":1.9,"y":8.6},{"x":2.1,"y":8.2},{"x":2.35,"y":8.5},{"x":2.6,"y":8.2},{"x":2.85,"y":8.6},{"x":3.1,"y":8.3},{"x":3.35,"y":8.5},
{"x":0.7,"y":9.1},{"x":0.95,"y":9.4},{"x":1.15,"y":9.0},{"x":1.4,"y":9.3},{"x":1.6,"y":8.9},{"x":1.85,"y":9.2},{"x":2.1,"y":9.5},{"x":2.35,"y":9.1},{"x":2.6,"y":9.4},{"x":2.9,"y":9.0},{"x":3.2,"y":9.3},
{"x":0.8,"y":10.0},{"x":1.1,"y":10.3},{"x":1.35,"y":9.9},{"x":1.6,"y":10.2},{"x":1.9,"y":10.0},{"x":2.2,"y":10.4},{"x":2.5,"y":10.1},{"x":2.75,"y":10.3},{"x":3.05,"y":10.0},{"x":3.3,"y":10.4},
{"x":0.9,"y":10.9},{"x":1.3,"y":11.1},{"x":1.75,"y":10.8},{"x":2.05,"y":11.2},{"x":2.45,"y":10.9},{"x":2.9,"y":11.1},{"x":3.2,"y":10.8},
{"x":0.9,"y":3.9},{"x":1.3,"y":4.0},{"x":1.9,"y":3.95},{"x":2.5,"y":3.9},{"x":3.1,"y":3.95},{"x":3.6,"y":4.0},
{"x":0.65,"y":4.75},{"x":1.1,"y":4.8},{"x":1.5,"y":4.75},{"x":2.1,"y":4.8},{"x":2.7,"y":4.8},{"x":3.3,"y":4.75},{"x":3.9,"y":4.8},
{"x":0.7,"y":5.6},{"x":1.1,"y":5.55},{"x":1.7,"y":5.6},{"x":2.3,"y":5.55},{"x":2.9,"y":5.6},{"x":3.5,"y":5.55},
{"x":0.6,"y":6.4},{"x":1.0,"y":6.4},{"x":1.9,"y":6.4},{"x":2.1,"y":6.9},{"x":1.95,"y":6.7},{"x":2.5,"y":6.35},{"x":3.1,"y":6.4},{"x":3.6,"y":6.4},
{"x":0.75,"y":7.15},{"x":1.3,"y":7.2},{"x":1.8,"y":7.3},{"x":1.75,"y":7.7},{"x":2.25,"y":7.2},{"x":2.6,"y":7.2},{"x":3.0,"y":7.25},{"x":3.35,"y":7.2},{"x":2.0,"y":7.9},{"x":2.2,"y":7.6},
{"x":0.7,"y":7.95},{"x":1.1,"y":8.0},{"x":1.5,"y":7.9},{"x":2.5,"y":8.0},{"x":2.9,"y":8.0},{"x":3.3,"y":7.95},
{"x":0.8,"y":8.8},{"x":1.35,"y":8.75},{"x":2.0,"y":8.8},{"x":2.5,"y":8.8},{"x":3.0,"y":8.75},
{"x":0.9,"y":9.7},{"x":1.5,"y":9.65},{"x":2.0,"y":9.7},{"x":2.7,"y":9.7},{"x":3.3,"y":9.7},
{"x":1.0,"y":10.55},{"x":1.5,"y":10.6},{"x":2.3,"y":10.6},{"x":2.9,"y":10.55}]
},
"concat":[
{"width":146,"height":128,
 "title":{"text":"(a)","orient":"bottom","anchor":"end","dx":17,"offset":-5},
 "layer":[
  {"data":{"name":"dashA"},"mark":{"type":"rule","strokeDash":[3,2],"color":"#222","strokeWidth":0.9},"encoding":{"y":{"field":"y","type":"quantitative"}}},
  {"data":{"name":"linA"},"mark":{"type":"line","strokeWidth":1.1,"opacity":0.8},"encoding":{
    "x":{"field":"x","type":"quantitative","scale":{"domain":[-1.76,5.34],"nice":false,"zero":false},"axis":{"values":[-1,0,1,2,3,4,5],"tickCount":30,"format":"d","title":"log rₖ","labelOverlap":false}},
    "y":{"field":"y","type":"quantitative","scale":{"domain":[0,8.37],"nice":false},"axis":{"values":[0,1,2,3,4,5,6,7,8],"tickCount":30,"format":"d","title":"log k","labelOverlap":false}},
    "color":{"field":"s","type":"nominal","scale":{"domain":["red","yellow","green","cyan","magenta","blue"],"range":["#ff3030","#e0dc20","#22a022","#30d4d4","#d040d0","#2020f0"]},"legend":null}}},
  {"data":{"name":"barA"},"mark":{"type":"rule","strokeWidth":4,"color":"#000"},"encoding":{"x":{"field":"x","type":"quantitative"},"y":{"field":"y","type":"quantitative"},"y2":{"field":"y2"}}},
  {"data":{"name":"mkA"},"mark":{"type":"point","filled":true,"size":24,"stroke":"#444","strokeWidth":0.7,"opacity":1},"encoding":{
    "x":{"field":"x","type":"quantitative"},"y":{"field":"y","type":"quantitative"},
    "color":{"field":"s","type":"nominal","legend":null},
    "shape":{"field":"k","type":"nominal","scale":{"domain":["s","c","d"],"range":["square","circle","diamond"]},"legend":null}}}
 ]},
{"width":145,"height":128,
 "layer":[
  {"data":{"name":"sA"},"mark":{"type":"point","filled":true,"color":"#111","size":30,"opacity":1},"encoding":{
    "x":{"field":"x","type":"quantitative","scale":{"domain":[0,7],"nice":false,"zero":false},"axis":{"values":[0,1,2,3,4,5,6,7],"tickCount":30,"format":"d","title":"min slope","labelOverlap":false}},
    "y":{"field":"y","type":"quantitative","scale":{"domain":[2.2,22],"nice":false,"zero":false},"axis":{"values":[5,10,15,20],"tickCount":30,"format":"d","title":"max slope","labelOverlap":false}}}},
  {"data":{"name":"hA"},"mark":{"type":"point","filled":true,"size":40,"stroke":"#333","strokeWidth":0.8,"opacity":1},"encoding":{
    "x":{"field":"x","type":"quantitative"},"y":{"field":"y","type":"quantitative"},
    "color":{"field":"s","type":"nominal","legend":null},
    "shape":{"field":"k","type":"nominal","legend":null}}}
 ]},
{"width":7,"height":128,"data":{"values":[]},"mark":"point","encoding":{},"view":{"stroke":null}},
{"width":145,"height":128,
 "title":{"text":"(c)","orient":"bottom","anchor":"end","dx":17,"offset":-5},
 "layer":[
  {"data":{"name":"dashC"},"mark":{"type":"rule","strokeDash":[3,2],"color":"#222","strokeWidth":0.9},"encoding":{"y":{"field":"y","type":"quantitative"}}},
  {"data":{"name":"linC"},"mark":{"type":"line","strokeWidth":1.1,"opacity":0.8},"encoding":{
    "x":{"field":"x","type":"quantitative","scale":{"domain":[-1.1,6.15],"nice":false,"zero":false},"axis":{"values":[-1,0,1,2,3,4,5,6],"tickCount":30,"format":"d","title":"log rₖ","labelOverlap":false}},
    "y":{"field":"y","type":"quantitative","scale":{"domain":[0,8.37],"nice":false},"axis":{"values":[0,1,2,3,4,5,6,7,8],"tickCount":30,"format":"d","title":"log k","labelOverlap":false}},
    "color":{"field":"s","type":"nominal","legend":null}}},
  {"data":{"name":"barC"},"mark":{"type":"rule","strokeWidth":4,"color":"#000"},"encoding":{"x":{"field":"x","type":"quantitative"},"y":{"field":"y","type":"quantitative"},"y2":{"field":"y2"}}},
  {"data":{"name":"mkC"},"mark":{"type":"point","filled":true,"size":24,"stroke":"#444","strokeWidth":0.7,"opacity":1},"encoding":{
    "x":{"field":"x","type":"quantitative"},"y":{"field":"y","type":"quantitative"},
    "color":{"field":"s","type":"nominal","legend":null},
    "shape":{"field":"k","type":"nominal","legend":null}}}
 ]},
{"width":145,"height":128,
 "layer":[
  {"data":{"name":"sC"},"mark":{"type":"point","filled":true,"color":"#111","size":30,"opacity":1},"encoding":{
    "x":{"field":"x","type":"quantitative","scale":{"domain":[0,4],"nice":false,"zero":false},"axis":{"values":[0,0.5,1,1.5,2,2.5,3,3.5,4],"tickCount":30,"format":".1f","title":"min slope","labelOverlap":false}},
    "y":{"field":"y","type":"quantitative","scale":{"domain":[0,20],"nice":false},"axis":{"values":[0,5,10,15,20],"tickCount":30,"format":"d","title":"max slope","labelOverlap":false}}}},
  {"data":{"name":"hC"},"mark":{"type":"point","filled":true,"size":40,"stroke":"#333","strokeWidth":0.8,"opacity":1},"encoding":{
    "x":{"field":"x","type":"quantitative"},"y":{"field":"y","type":"quantitative"},
    "color":{"field":"s","type":"nominal","legend":null},
    "shape":{"field":"k","type":"nominal","legend":null}}}
 ]},
{"width":146,"height":128,
 "title":{"text":"(b)","orient":"bottom","anchor":"end","dx":17,"offset":-5},
 "layer":[
  {"data":{"name":"dashB"},"mark":{"type":"rule","strokeDash":[3,2],"color":"#222","strokeWidth":0.9},"encoding":{"y":{"field":"y","type":"quantitative"}}},
  {"data":{"name":"linB"},"mark":{"type":"line","strokeWidth":1.1,"opacity":0.8},"encoding":{
    "x":{"field":"x","type":"quantitative","scale":{"domain":[0.75,6.15],"nice":false,"zero":false},"axis":{"values":[1,2,3,4,5,6],"tickCount":30,"format":"d","title":"log rₖ","labelOverlap":false}},
    "y":{"field":"y","type":"quantitative","scale":{"domain":[0,8.41],"nice":false},"axis":{"values":[0,1,2,3,4,5,6,7,8],"tickCount":30,"format":"d","title":"log k","labelOverlap":false}},
    "color":{"field":"s","type":"nominal","legend":null}}},
  {"data":{"name":"barB"},"mark":{"type":"rule","strokeWidth":4,"color":"#000"},"encoding":{"x":{"field":"x","type":"quantitative"},"y":{"field":"y","type":"quantitative"},"y2":{"field":"y2"}}},
  {"data":{"name":"mkB"},"mark":{"type":"point","filled":true,"size":24,"stroke":"#444","strokeWidth":0.7,"opacity":1},"encoding":{
    "x":{"field":"x","type":"quantitative"},"y":{"field":"y","type":"quantitative"},
    "color":{"field":"s","type":"nominal","legend":null},
    "shape":{"field":"k","type":"nominal","legend":null}}}
 ]},
{"width":145,"height":128,
 "layer":[
  {"data":{"name":"sB"},"mark":{"type":"point","filled":true,"color":"#111","size":30,"opacity":1},"encoding":{
    "x":{"field":"x","type":"quantitative","scale":{"domain":[0,4.5],"nice":false,"zero":false},"axis":{"values":[0,0.5,1,1.5,2,2.5,3,3.5,4,4.5],"tickCount":30,"format":".1f","title":"min slope","labelOverlap":false}},
    "y":{"field":"y","type":"quantitative","scale":{"domain":[0,22.5],"nice":false},"axis":{"values":[0,5,10,15,20],"tickCount":30,"format":"d","title":"max slope","labelOverlap":false}}}},
  {"data":{"name":"hB"},"mark":{"type":"point","filled":true,"size":40,"stroke":"#333","strokeWidth":0.8,"opacity":1},"encoding":{
    "x":{"field":"x","type":"quantitative"},"y":{"field":"y","type":"quantitative"},
    "color":{"field":"s","type":"nominal","legend":null},
    "shape":{"field":"k","type":"nominal","legend":null}}}
 ]},
{"width":7,"height":128,"data":{"values":[]},"mark":"point","encoding":{},"view":{"stroke":null}},
{"width":145,"height":128,
 "title":{"text":"(d)","orient":"bottom","anchor":"end","dx":17,"offset":-5},
 "layer":[
  {"data":{"name":"dashD"},"mark":{"type":"rule","strokeDash":[3,2],"color":"#222","strokeWidth":0.9},"encoding":{"y":{"field":"y","type":"quantitative"}}},
  {"data":{"name":"linD"},"mark":{"type":"line","strokeWidth":1.1,"opacity":0.8},"encoding":{
    "x":{"field":"x","type":"quantitative","scale":{"domain":[-1.32,5.64],"nice":false,"zero":false},"axis":{"values":[-1,0,1,2,3,4,5],"tickCount":30,"format":"d","title":"log rₖ","labelOverlap":false}},
    "y":{"field":"y","type":"quantitative","scale":{"domain":[0,8.41],"nice":false},"axis":{"values":[0,1,2,3,4,5,6,7,8],"tickCount":30,"format":"d","title":"log k","labelOverlap":false}},
    "color":{"field":"s","type":"nominal","legend":null}}},
  {"data":{"name":"barD"},"mark":{"type":"rule","strokeWidth":4,"color":"#000"},"encoding":{"x":{"field":"x","type":"quantitative"},"y":{"field":"y","type":"quantitative"},"y2":{"field":"y2"}}},
  {"data":{"name":"mkD"},"mark":{"type":"point","filled":true,"size":24,"stroke":"#444","strokeWidth":0.7,"opacity":1},"encoding":{
    "x":{"field":"x","type":"quantitative"},"y":{"field":"y","type":"quantitative"},
    "color":{"field":"s","type":"nominal","legend":null},
    "shape":{"field":"k","type":"nominal","legend":null}}}
 ]},
{"width":145,"height":128,
 "layer":[
  {"data":{"name":"sD"},"mark":{"type":"point","filled":true,"color":"#111","size":30,"opacity":1},"encoding":{
    "x":{"field":"x","type":"quantitative","scale":{"domain":[0,5.5],"nice":false,"zero":false},"axis":{"values":[0,1,2,3,4,5],"tickCount":30,"format":"d","title":"min slope","labelOverlap":false}},
    "y":{"field":"y","type":"quantitative","scale":{"domain":[0,22.5],"nice":false},"axis":{"values":[0,5,10,15,20],"tickCount":30,"format":"d","title":"max slope","labelOverlap":false}}}},
  {"data":{"name":"hD"},"mark":{"type":"point","filled":true,"size":40,"stroke":"#333","strokeWidth":0.8,"opacity":1},"encoding":{
    "x":{"field":"x","type":"quantitative"},"y":{"field":"y","type":"quantitative"},
    "color":{"field":"s","type":"nominal","legend":null},
    "shape":{"field":"k","type":"nominal","legend":null}}}
 ]}
],
"columns":5,
"spacing":{"row":44,"column":21},
"bounds":"flush",
"resolve":{"scale":{"color":"shared","shape":"shared"}}
}
